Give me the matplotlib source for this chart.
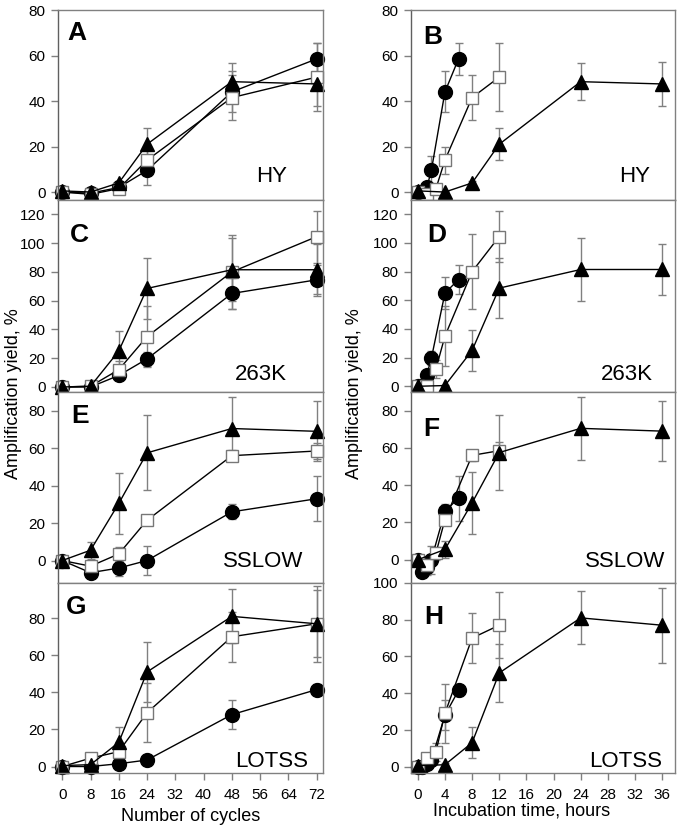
import matplotlib
matplotlib.use("Agg")
import matplotlib.pyplot as plt
from matplotlib.ticker import MultipleLocator

plt.rcParams['font.family'] = ['Liberation Sans', 'DejaVu Sans']

# cycles (left column) and matching incubation times (right column)
cycles = [0, 8, 16, 24, 48, 72]
hours_circle = [0, 0.67, 1.33, 2, 4, 6]
hours_square = [0, 1.33, 2.67, 4, 8, 12]
hours_triangle = [0, 4, 8, 12, 24, 36]

strains = ['HY', '263K', 'SSLOW', 'LOTSS']

# amplification yield, %
hy_circle = [0, -0.5, 2, 9.5, 44, 58.5]
hy_circle_err = [1, 1, 1, 6.5, 9, 7]
hy_square = [0, -1, 1.5, 14, 41.5, 50.5]
hy_square_err = [1, 1, 1, 6, 10, 15]
hy_triangle = [0.5, 0, 4, 21, 48.5, 47.5]
hy_triangle_err = [0.5, 0.5, 1, 7, 8, 9.5]

k263_circle = [0, 0, 8, 19.5, 65, 74.5]
k263_circle_err = [1, 1, 3, 5, 11, 10]
k263_square = [0, 0.5, 12, 35, 80, 104.5]
k263_square_err = [1, 1, 6, 21, 26, 18]
k263_triangle = [0, 0.5, 25, 68.5, 81.5, 81.5]
k263_triangle_err = [0.5, 0.5, 14, 21, 22, 18]

sslow_circle = [0, -6.5, -4, 0, 26, 33]
sslow_circle_err = [2, 3, 4, 7.5, 4, 12]
sslow_square = [0, -3, 3.5, 21.5, 56, 58.5]
sslow_square_err = [1, 2, 3.5, 2, 3, 4.5]
sslow_triangle = [0, 5.5, 30.5, 57.5, 70.5, 69]
sslow_triangle_err = [1, 4.5, 16.5, 20, 17, 16]

lotss_circle = [0, 0, 1.5, 3.5, 28, 41.5]
lotss_circle_err = [1, 1, 1, 1, 8, 3]
lotss_square = [0, 4.5, 8, 29, 70, 77]
lotss_square_err = [1, 1, 5, 16, 13.5, 18]
lotss_triangle = [0.5, 1, 13, 51, 81, 77]
lotss_triangle_err = [1, 1, 8.5, 16, 14.5, 20.5]

circles = [hy_circle, k263_circle, sslow_circle, lotss_circle]
circles_err = [hy_circle_err, k263_circle_err, sslow_circle_err, lotss_circle_err]
squares = [hy_square, k263_square, sslow_square, lotss_square]
squares_err = [hy_square_err, k263_square_err, sslow_square_err, lotss_square_err]
triangles = [hy_triangle, k263_triangle, sslow_triangle, lotss_triangle]
triangles_err = [hy_triangle_err, k263_triangle_err, sslow_triangle_err, lotss_triangle_err]

letters = [['A', 'B'], ['C', 'D'], ['E', 'F'], ['G', 'H']]
ylims = [[(-3.5, 80), (-3.5, 80)], [(-3.5, 130), (-4, 130)],
         [(-12, 90), (-12.5, 90)], [(-3.5, 99), (-3.5, 100)]]

W, H = 681, 835
col_x = [(58, 323), (411, 675)]
row_y = [(10, 200), (200, 392), (392, 583), (583, 773)]

# label placement in axes fraction (strain label right/baseline, letter left/top)
strain_pos = [[(0.864, 0.095), (0.905, 0.095)], [(0.864, 0.062), (0.917, 0.062)],
              [(0.925, 0.084), (0.962, 0.084)], [(0.943, 0.032), (0.95, 0.032)]]
letter_pos = [[(0.035, 0.94), (0.045, 0.92)], [(0.043, 0.88), (0.06, 0.88)],
              [(0.05, 0.935), (0.045, 0.87)], [(0.031, 0.935), (0.051, 0.885)]]

fig = plt.figure(figsize=(W / 100, H / 100), dpi=100)

spine_gray = '#808080'
err_gray = '#808080'


def plot_series(ax, x, y, yerr, marker, size, face, edge):
    ax.errorbar(x, y, yerr=yerr, color='black', lw=1, ecolor=err_gray, elinewidth=1,
                capsize=3, capthick=1, marker=marker, markersize=size,
                markerfacecolor=face, markeredgecolor=edge, markeredgewidth=1,
                clip_on=False)


for r in range(4):
    for c in range(2):
        x0, x1 = col_x[c]
        y0, y1 = row_y[r]
        ax = fig.add_axes([x0 / W, 1 - y1 / H, (x1 - x0) / W, (y1 - y0) / H])
        if c == 0:
            xc, xs, xt = cycles, cycles, cycles
        else:
            xc, xs, xt = hours_circle, hours_square, hours_triangle
        plot_series(ax, xc, circles[r], circles_err[r], 'o', 10, 'black', 'black')
        plot_series(ax, xs, squares[r], squares_err[r], 's', 9, 'white', '#777777')
        plot_series(ax, xt, triangles[r], triangles_err[r], '^', 10, 'black', 'black')

        if c == 0:
            ax.set_xlim(-1.2, 73.8)
            ax.xaxis.set_major_locator(MultipleLocator(8))
        else:
            ax.set_xlim(-1, 37.9)
            ax.xaxis.set_major_locator(MultipleLocator(4))
        ax.set_ylim(*ylims[r][c])
        ax.yaxis.set_major_locator(MultipleLocator(20))

        for s in ax.spines.values():
            s.set_color(spine_gray)
            s.set_linewidth(1)
        ax.spines['left'].set_color('#606060')
        ax.tick_params(axis='both', direction='out', length=5, width=1, color=spine_gray,
                       labelsize=11, pad=4)
        ax.tick_params(axis='x', pad=6)
        if r < 3:
            ax.tick_params(axis='x', bottom=False, labelbottom=False)

        sx, sy = strain_pos[r][c]
        ax.text(sx, sy, strains[r], transform=ax.transAxes, ha='right', va='baseline',
                fontsize=16)
        lx, ly = letter_pos[r][c]
        ax.text(lx, ly, letters[r][c], transform=ax.transAxes, ha='left', va='top',
                fontsize=19, fontweight='bold')

        if r == 3:
            if c == 0:
                ax.set_xlabel('Number of cycles', fontsize=13, labelpad=4)
            else:
                ax.set_xlabel('Incubation time, hours', fontsize=13, labelpad=4)
                ax.xaxis.set_label_coords(0.42, -0.155)

fig.text(14 / W, 1 - 394 / H, 'Amplification yield, %', rotation=90, ha='center',
         va='center', fontsize=13)
fig.text(354 / W, 1 - 394 / H, 'Amplification yield, %', rotation=90, ha='center',
         va='center', fontsize=13)

fig.savefig('out.png', dpi=100)
